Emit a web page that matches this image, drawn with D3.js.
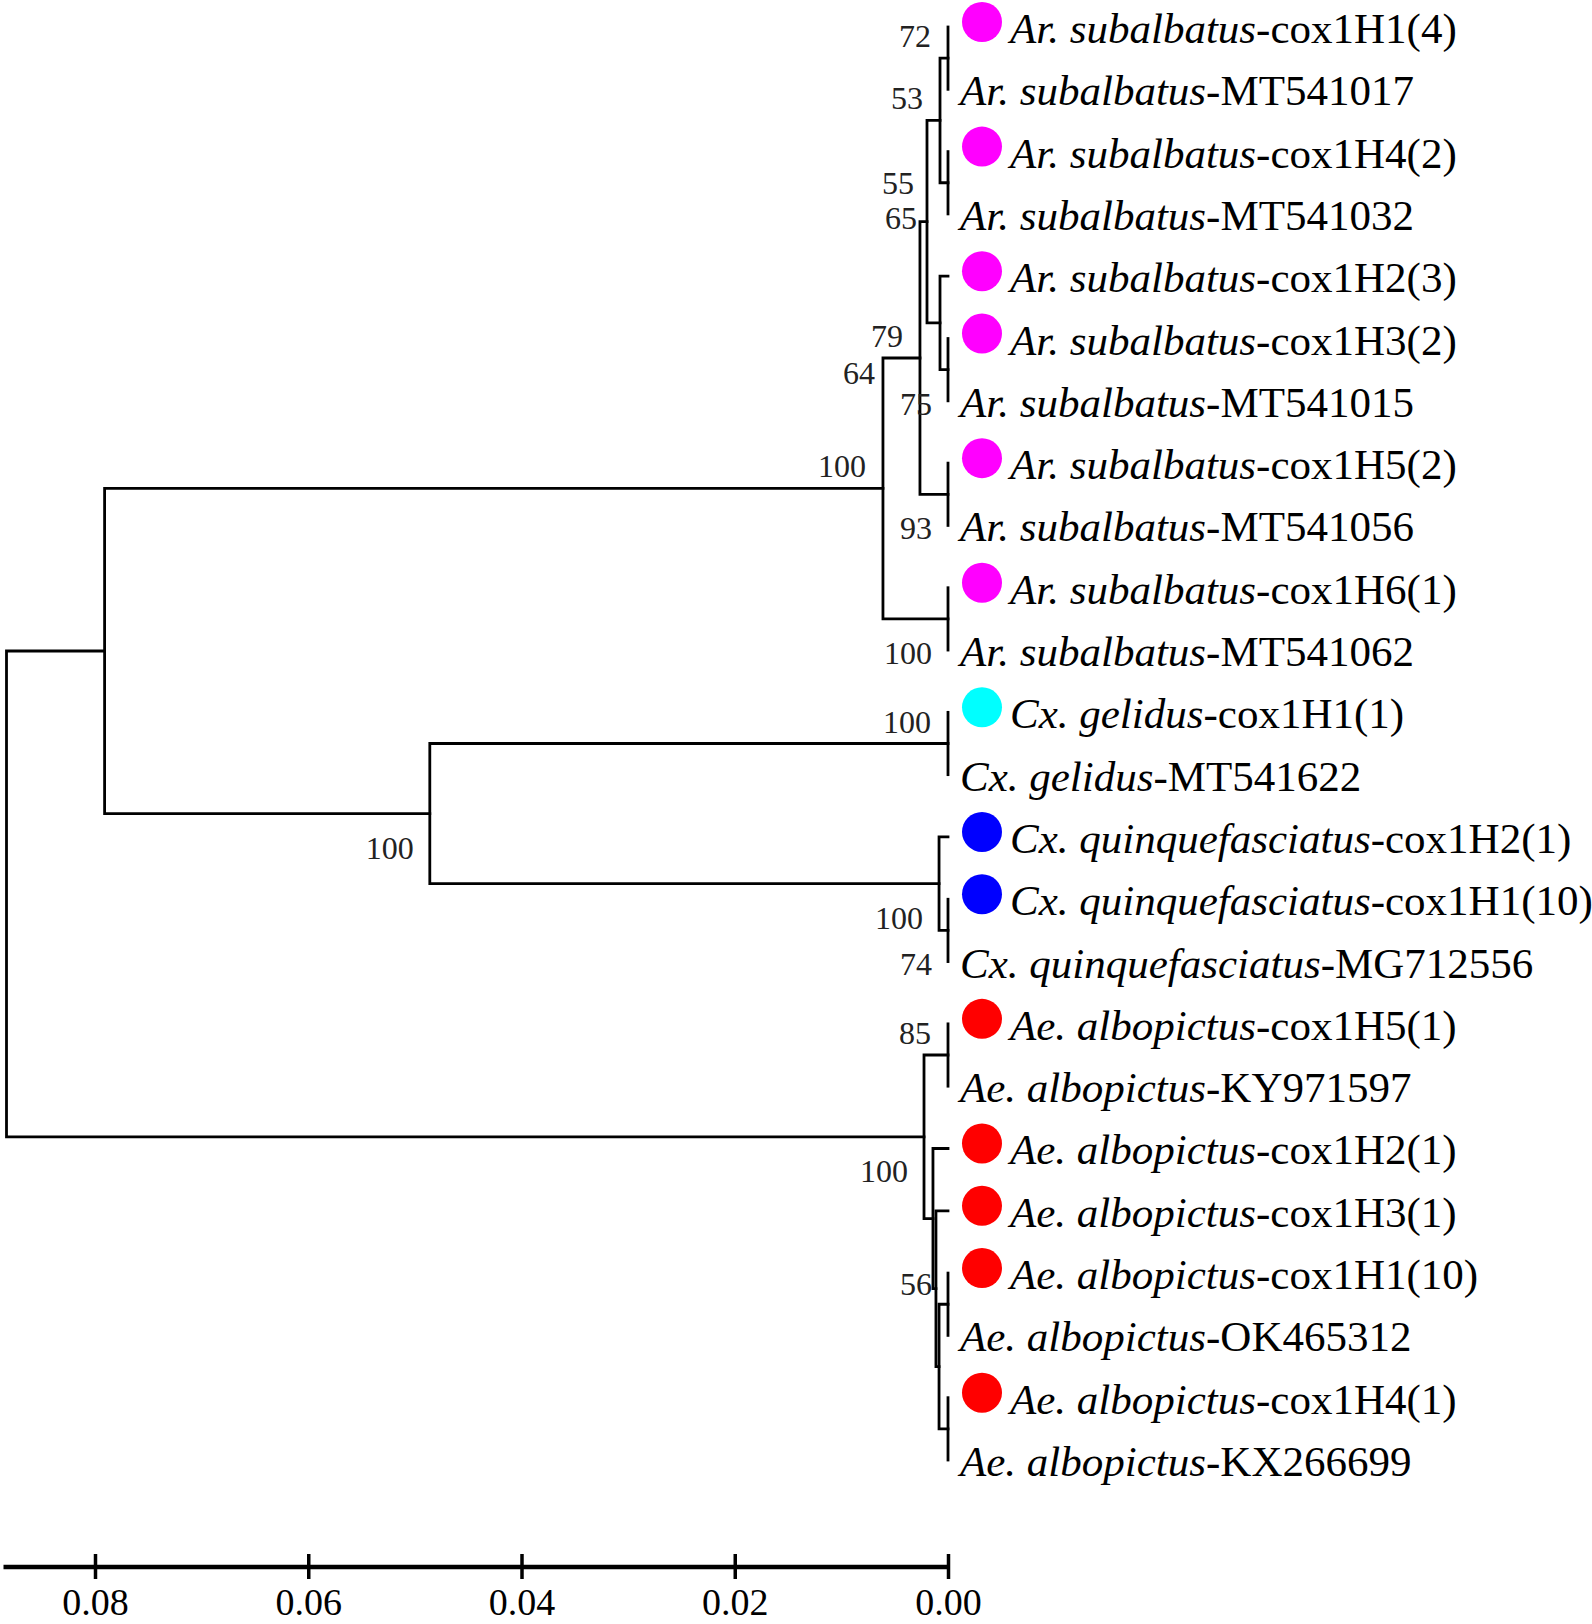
<!DOCTYPE html>
<html><head><meta charset="utf-8">
<script src="https://cdn.jsdelivr.net/npm/d3@7"></script>
<style>html,body{margin:0;padding:0;background:#fff;} svg{display:block;}</style>
</head><body>
<svg id="chart" width="1592" height="1624"></svg>
<script>
// ---------------- DATA ----------------
const leafSpecies = [
  "Ar. subalbatus","Ar. subalbatus","Ar. subalbatus","Ar. subalbatus","Ar. subalbatus","Ar. subalbatus",
  "Ar. subalbatus","Ar. subalbatus","Ar. subalbatus","Ar. subalbatus","Ar. subalbatus",
  "Cx. gelidus","Cx. gelidus",
  "Cx. quinquefasciatus","Cx. quinquefasciatus","Cx. quinquefasciatus",
  "Ae. albopictus","Ae. albopictus","Ae. albopictus","Ae. albopictus","Ae. albopictus","Ae. albopictus","Ae. albopictus","Ae. albopictus"
];
const leafSuffix = [
  "cox1H1(4)","MT541017","cox1H4(2)","MT541032","cox1H2(3)","cox1H3(2)","MT541015","cox1H5(2)","MT541056","cox1H6(1)","MT541062",
  "cox1H1(1)","MT541622",
  "cox1H2(1)","cox1H1(10)","MG712556",
  "cox1H5(1)","KY971597","cox1H2(1)","cox1H3(1)","cox1H1(10)","OK465312","cox1H4(1)","KX266699"
];
const leafGroup = [
  "Ar","Ar","Ar","Ar","Ar","Ar","Ar","Ar","Ar","Ar","Ar",
  "CxG","CxG","CxQ","CxQ","CxQ",
  "Ae","Ae","Ae","Ae","Ae","Ae","Ae","Ae"
];
const leafMarked = [
  true,false,true,false,true,true,false,true,false,true,false,
  true,false,true,true,false,
  true,false,true,true,true,false,true,false
];
const leafParents = ["A","A","C","C","D","E","E","J","J","I","I","K","K","M","L","L","P","P","R","S","U","U","V","V"];

const nodeIds       = ["root","W","Q","H","N","G","I","F","J","B","D","A","C","E","K","M","L","P","R","S","T","U","V"];
const nodeParents   = [null,"root","root","W","W","H","H","G","G","F","F","B","B","D","N","N","M","Q","Q","R","S","T","T"];
const nodeHeights   = [0.0883,0.0791,0.00225,0.0061,0.0486,0.00263,0,0.00197,0,0.00075,0.00075,0,0,0,0,0.00084,0,0,0.00141,0.00113,0.00084,0,0];
const nodeBootstrap = [null,null,100,100,100,79,100,65,93,53,64,72,55,75,100,100,74,85,null,56,null,null,null];

const axisTicks = [0.08, 0.06, 0.04, 0.02, 0.00];

// ---------------- STYLE / LAYOUT CONFIG ----------------
const groupColors = {Ar:"#ff00ff", CxG:"#00ffff", CxQ:"#0000ff", Ae:"#ff0000"};
const labelPlace = {A:"above",B:"above",C:[-34,11],D:[-65,61],E:"below",F:[-10,7],G:"above",H:"above",
  I:"below",J:"below",K:"above",L:"below",M:"below",N:"below",P:"above",Q:"below",S:[-4,6]};
const FONT = "'Liberation Serif','Times New Roman',serif";

// ---------------- BUILD ----------------
const rows = nodeIds.map((id,i)=>({id, parentId:nodeParents[i], height:nodeHeights[i], boot:nodeBootstrap[i]}));
const leafIds = leafSpecies.map((s,i)=>"leaf"+i);
leafIds.forEach((id,i)=>rows.push({id, parentId:leafParents[i], height:0, boot:null, leaf:i}));

const root = d3.stratify().id(d=>d.id).parentId(d=>d.parentId)(rows);

const x = d3.scaleLinear().domain([0, 0.08]).range([948, 95]);
const y = d3.scalePoint().domain(leafIds).range([27, 1460]);

root.eachAfter(n=>{
  n.px = x(n.data.height);
  if(!n.children){ n.py = y(n.id); }
  else { const ys = n.children.map(c=>c.py); n.py = (d3.min(ys)+d3.max(ys))/2; }
});

const svg = d3.select("#chart");
svg.append("rect").attr("width",1592).attr("height",1624).attr("fill","#fff");

const g = svg.append("g");

// branches
const internal = root.descendants().filter(n=>n.children);
g.selectAll("path.branch").data(internal).join("path")
  .attr("class","branch")
  .attr("fill","none").attr("stroke","#000").attr("stroke-width",2.8).attr("stroke-linecap","square")
  .attr("d", n=>{
    const ys = n.children.map(c=>c.py);
    let d = `M${n.px},${d3.min(ys)}V${d3.max(ys)}`;
    n.children.forEach(c=>{ if(Math.abs(c.px-n.px)>0.5) d += `M${n.px},${c.py}H${c.px}`; });
    return d;
  });

// bootstrap labels
const booted = root.descendants().filter(n=>n.data.boot!=null);
g.selectAll("text.boot").data(booted).join("text")
  .attr("class","boot")
  .attr("font-family",FONT).attr("font-size",32).attr("fill","#222")
  .attr("text-anchor","end")
  .attr("x", n=>{ const p=labelPlace[n.id]; if(Array.isArray(p)) return n.px+p[0]; return n.px-(p==="below"?16:17); })
  .attr("y", n=>{ const p=labelPlace[n.id]; if(Array.isArray(p)) return n.py+p[1]; return n.py+(p==="below"?45:-11); })
  .text(n=>n.data.boot);

// leaves
const leaves = root.leaves();
const lg = g.selectAll("g.leaf").data(leaves).join("g").attr("class","leaf");
lg.filter(n=>leafMarked[n.data.leaf]).append("circle")
  .attr("cx", n=>n.px+34).attr("cy", n=>n.py-5).attr("r",20)
  .attr("fill", n=>groupColors[leafGroup[n.data.leaf]]);
const lt = lg.append("text")
  .attr("font-family",FONT).attr("font-size",43).attr("fill","#000")
  .attr("x", n=>n.px + (leafMarked[n.data.leaf]?62:12))
  .attr("y", n=>n.py+16);
lt.append("tspan").attr("font-style","italic").text(n=>leafSpecies[n.data.leaf]);
lt.append("tspan").text(n=>"-"+leafSuffix[n.data.leaf]);

// scale axis
const ax = svg.append("g").attr("transform","translate(0,1567)");
ax.call(d3.axisBottom(x).tickValues(axisTicks).tickFormat(d3.format(".2f")).tickSize(0));
ax.select(".domain").remove();
ax.insert("line",":first-child").attr("x1", x(root.data.height)-3).attr("x2", x(0)+1)
  .attr("y1",0).attr("y2",0).attr("stroke","#000").attr("stroke-width",4.5);
ax.selectAll(".tick line").attr("y1",-13).attr("y2",12).attr("stroke","#000").attr("stroke-width",3.5);
ax.selectAll(".tick text").attr("font-family",FONT).attr("font-size",38).attr("fill","#000")
  .attr("y",48).attr("dy",0);
</script>
</body></html>
